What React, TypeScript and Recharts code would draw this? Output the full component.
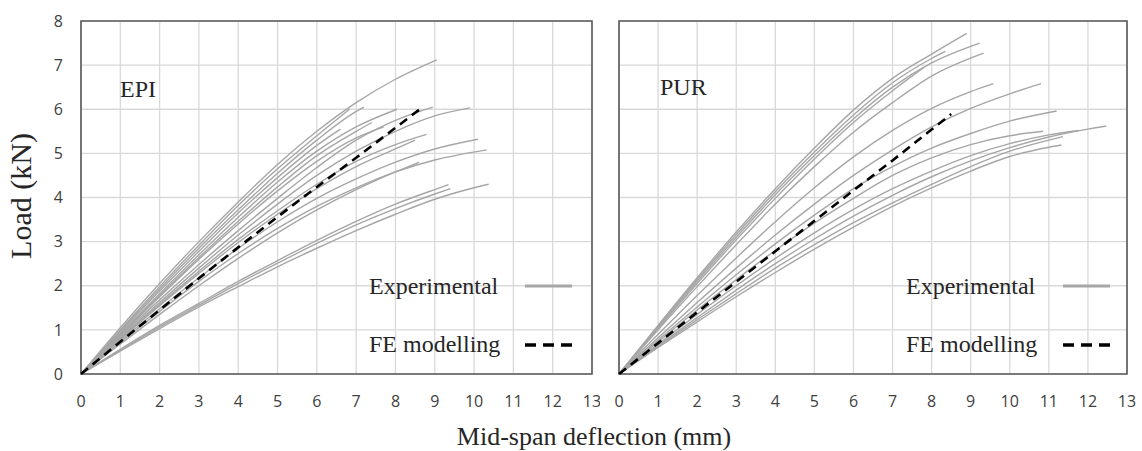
import React from "react";
import {
  LineChart,
  Line,
  XAxis,
  YAxis,
  CartesianGrid,
  ReferenceArea,
} from "recharts";

type Pt = [number, number];

const X_TICKS = [0, 1, 2, 3, 4, 5, 6, 7, 8, 9, 10, 11, 12, 13];
const Y_TICKS = [0, 1, 2, 3, 4, 5, 6, 7, 8];

// EPI experimental curves (deflection mm, load kN)
const epi1: Pt[] = [[0, 0], [1, 1.05], [2, 2.05], [3, 3.0], [4, 3.9], [5, 4.75], [6, 5.5], [7, 6.15], [8, 6.68], [9.05, 7.12]];
const epi2: Pt[] = [[0, 0], [1, 1.0], [2, 1.98], [3, 2.92], [4, 3.82], [5, 4.65], [6, 5.4], [6.83, 6.0]];
const epi3: Pt[] = [[0, 0], [1, 0.98], [2, 1.93], [3, 2.85], [4, 3.72], [5, 4.55], [6, 5.3], [7, 5.95], [7.2, 6.05]];
const epi4: Pt[] = [[0, 0], [1, 0.92], [2, 1.82], [3, 2.7], [4, 3.55], [5, 4.35], [6, 5.05], [7, 5.6], [8.04, 6.0]];
const epi5: Pt[] = [[0, 0], [1, 0.85], [2, 1.68], [3, 2.48], [4, 3.25], [5, 3.98], [6, 4.68], [7, 5.3], [8, 5.75], [8.95, 6.05]];
const epi6: Pt[] = [[0, 0], [1, 0.82], [2, 1.62], [3, 2.4], [4, 3.15], [5, 3.85], [6, 4.5], [7, 5.05], [8, 5.5], [9, 5.85], [9.9, 6.03]];
const epi7: Pt[] = [[0, 0], [1, 0.8], [2, 1.58], [3, 2.33], [4, 3.05], [5, 3.7], [6, 4.3], [7, 4.82], [8, 5.2], [8.79, 5.43]];
const epi8: Pt[] = [[0, 0], [1, 0.75], [2, 1.48], [3, 2.18], [4, 2.85], [5, 3.45], [6, 3.98], [7, 4.42], [8, 4.8], [9, 5.1], [10.1, 5.32]];
const epi9: Pt[] = [[0, 0], [1, 0.72], [2, 1.42], [3, 2.1], [4, 2.73], [5, 3.3], [6, 3.8], [7, 4.22], [8, 4.58], [9, 4.85], [10.32, 5.08]];
const epi10: Pt[] = [[0, 0], [1, 0.88], [2, 1.75], [3, 2.6], [4, 3.4], [5, 4.15], [6, 4.82], [7, 5.35], [7.7, 5.6]];
const epi11: Pt[] = [[0, 0], [1, 0.78], [2, 1.55], [3, 2.28], [4, 2.98], [5, 3.62], [6, 4.2], [7, 4.7], [8, 5.1], [8.5, 5.3]];
const epi12: Pt[] = [[0, 0], [1, 0.56], [2, 1.1], [3, 1.6], [4, 2.1], [5, 2.57], [6, 3.03], [7, 3.46], [8, 3.85], [9, 4.18], [9.35, 4.29]];
const epi13: Pt[] = [[0, 0], [1, 0.54], [2, 1.07], [3, 1.56], [4, 2.05], [5, 2.51], [6, 2.96], [7, 3.38], [8, 3.75], [9, 4.08], [9.4, 4.2]];
const epi14: Pt[] = [[0, 0], [1, 0.52], [2, 1.03], [3, 1.52], [4, 1.98], [5, 2.43], [6, 2.85], [7, 3.25], [8, 3.62], [9, 3.96], [10, 4.22], [10.37, 4.3]];
const epi15: Pt[] = [[0, 0], [1, 0.95], [2, 1.88], [3, 2.78], [4, 3.65], [5, 4.45], [6, 5.18], [6.6, 5.55]];
const epi16: Pt[] = [[0, 0], [1, 0.9], [2, 1.78], [3, 2.64], [4, 3.46], [5, 4.24], [6, 4.95], [7, 5.5], [7.4, 5.7]];
const epi17: Pt[] = [[0, 0], [1, 0.68], [2, 1.35], [3, 2.0], [4, 2.62], [5, 3.2], [6, 3.72], [7, 4.18], [8, 4.58], [8.6, 4.8]];
const feEpi: Pt[] = [[0, 0], [1, 0.73], [2, 1.45], [3, 2.17], [4, 2.87], [5, 3.56], [6, 4.24], [7, 4.9], [8, 5.58], [8.62, 6.0]];

// PUR experimental curves
const pur1: Pt[] = [[0, 0], [1, 1.1], [2, 2.18], [3, 3.22], [4, 4.2], [5, 5.12], [6, 5.98], [7, 6.7], [8, 7.25], [8.9, 7.72]];
const pur2: Pt[] = [[0, 0], [1, 1.08], [2, 2.14], [3, 3.16], [4, 4.13], [5, 5.03], [6, 5.87], [7, 6.6], [8, 7.15], [8.35, 7.31]];
const pur3: Pt[] = [[0, 0], [1, 1.06], [2, 2.1], [3, 3.1], [4, 4.06], [5, 4.95], [6, 5.78], [7, 6.5], [8, 7.05], [9.23, 7.5]];
const pur4: Pt[] = [[0, 0], [1, 1.0], [2, 1.98], [3, 2.93], [4, 3.85], [5, 4.7], [6, 5.48], [7, 6.15], [8, 6.75], [9.33, 7.27]];
const pur5: Pt[] = [[0, 0], [1, 1.03], [2, 2.05], [3, 3.04], [4, 3.98], [5, 4.87], [6, 5.7], [7, 6.42], [7.8, 6.95]];
const pur6: Pt[] = [[0, 0], [1, 0.9], [2, 1.78], [3, 2.63], [4, 3.45], [5, 4.22], [6, 4.92], [7, 5.52], [8, 6.02], [9, 6.4], [9.58, 6.58]];
const pur7: Pt[] = [[0, 0], [1, 0.82], [2, 1.62], [3, 2.4], [4, 3.15], [5, 3.85], [6, 4.5], [7, 5.08], [8, 5.6], [9, 6.02], [10, 6.35], [10.8, 6.58]];
const pur8: Pt[] = [[0, 0], [1, 0.77], [2, 1.52], [3, 2.25], [4, 2.95], [5, 3.6], [6, 4.2], [7, 4.7], [8, 5.12], [9, 5.45], [10, 5.73], [11.2, 5.96]];
const pur9: Pt[] = [[0, 0], [1, 0.65], [2, 1.28], [3, 1.9], [4, 2.5], [5, 3.06], [6, 3.58], [7, 4.05], [8, 4.47], [9, 4.83], [10, 5.13], [11, 5.37], [12, 5.55], [12.47, 5.62]];
const pur10: Pt[] = [[0, 0], [1, 0.68], [2, 1.35], [3, 2.0], [4, 2.62], [5, 3.2], [6, 3.73], [7, 4.2], [8, 4.6], [9, 4.95], [10, 5.22], [11, 5.42], [11.76, 5.52]];
const pur11: Pt[] = [[0, 0], [1, 0.73], [2, 1.45], [3, 2.14], [4, 2.8], [5, 3.42], [6, 3.98], [7, 4.5], [8, 4.9], [9, 5.2], [10, 5.4], [10.85, 5.5]];
const pur12: Pt[] = [[0, 0], [1, 0.62], [2, 1.23], [3, 1.82], [4, 2.4], [5, 2.93], [6, 3.43], [7, 3.88], [8, 4.3], [9, 4.7], [10, 5.05], [11, 5.3], [11.36, 5.38]];
const pur13: Pt[] = [[0, 0], [1, 0.6], [2, 1.18], [3, 1.75], [4, 2.3], [5, 2.83], [6, 3.33], [7, 3.8], [8, 4.22], [9, 4.6], [10, 4.93], [11, 5.14], [11.32, 5.19]];
const fePur: Pt[] = [[0, 0], [1, 0.7], [2, 1.4], [3, 2.09], [4, 2.78], [5, 3.47], [6, 4.16], [7, 4.84], [8, 5.54], [8.5, 5.89]];

const epiCurves = [epi1, epi2, epi3, epi4, epi5, epi6, epi7, epi8, epi9, epi10, epi11, epi12, epi13, epi14, epi15, epi16, epi17];
const purCurves = [pur1, pur2, pur3, pur4, pur5, pur6, pur7, pur8, pur9, pur10, pur11, pur12, pur13];

const GRAY = "#a6a6a6";
const SERIF = "'Liberation Serif', 'Times New Roman', serif";
const SANS = "'Open Sans', 'Noto Sans', sans-serif";

const rows = (c: Pt[]) => c.map(([x, y]) => ({ x, y }));

interface PanelProps {
  curves: Pt[][];
  fe: Pt[];
  left: number;
  width: number;
  mLeft: number;
  mRight: number;
  showY: boolean;
}

function Panel({ curves, fe, left, width, mLeft, mRight, showY }: PanelProps) {
  return (
    <div style={{ position: "absolute", left, top: 0 }}>
      <LineChart
        width={width}
        height={451}
        margin={{ top: 21, right: mRight, bottom: 55, left: mLeft }}
      >
        <CartesianGrid stroke="#d9d9d9" strokeWidth={1.3} />
        <XAxis
          dataKey="x"
          type="number"
          domain={[0, 13]}
          ticks={X_TICKS}
          interval={0}
          allowDuplicatedCategory={false}
          axisLine={false}
          tickLine={false}
          tickMargin={16}
          height={22}
          tick={{ fill: "#404040", fontSize: 16, fontFamily: SANS }}
        />
        <YAxis
          type="number"
          domain={[0, 8]}
          ticks={Y_TICKS}
          interval={0}
          hide={!showY}
          width={60}
          axisLine={false}
          tickLine={false}
          tickMargin={12}
          tick={{ fill: "#404040", fontSize: 16, fontFamily: SANS }}
        />
        <ReferenceArea
          x1={0}
          x2={13}
          y1={0}
          y2={8}
          fill="none"
          fillOpacity={0}
          stroke="#595959"
          strokeWidth={1.6}
        />
        {curves.map((c, i) => (
          <Line
            key={`c-${i}`}
            data={rows(c)}
            dataKey="y"
            type="monotone"
            stroke={GRAY}
            strokeWidth={1.4}
            dot={false}
            isAnimationActive={false}
          />
        ))}
        <Line
          data={rows(fe)}
          dataKey="y"
          type="linear"
          stroke="#000"
          strokeWidth={2.6}
          strokeDasharray="9 6"
          dot={false}
          isAnimationActive={false}
        />
      </LineChart>
    </div>
  );
}

function Legend({ x, lineX }: { x: number; lineX: number }) {
  const text: React.CSSProperties = {
    position: "absolute",
    left: x,
    fontFamily: SERIF,
    fontSize: 24,
    lineHeight: "24px",
    color: "#262626",
    whiteSpace: "nowrap",
  };
  return (
    <>
      <div style={{ ...text, top: 274 }}>Experimental</div>
      <div style={{ ...text, top: 332 }}>FE modelling</div>
      <svg style={{ position: "absolute", left: lineX, top: 280 }} width={48} height={70}>
        <line x1={0} y1={6} x2={47} y2={6} stroke={GRAY} strokeWidth={3} />
        <line x1={0} y1={65} x2={47} y2={65} stroke="#000" strokeWidth={3.5} strokeDasharray="11 7" />
      </svg>
    </>
  );
}

export default function App() {
  const tag: React.CSSProperties = {
    position: "absolute",
    fontFamily: SERIF,
    fontSize: 24,
    lineHeight: "24px",
    color: "#262626",
  };
  return (
    <div
      style={{
        position: "absolute",
        left: 0,
        top: 0,
        width: 1142,
        height: 451,
        background: "#fff",
        overflow: "hidden",
      }}
    >
      <Panel curves={epiCurves} fe={feEpi} left={0} width={600} mLeft={21} mRight={8} showY />
      <Panel curves={purCurves} fe={fePur} left={600} width={542} mLeft={19} mRight={15} showY={false} />
      <div style={{ ...tag, left: 120, top: 77 }}>EPI</div>
      <div style={{ ...tag, left: 660, top: 75 }}>PUR</div>
      <Legend x={369} lineX={525} />
      <Legend x={906} lineX={1063} />
      <div
        style={{
          position: "absolute",
          left: 21,
          top: 196,
          transform: "translate(-50%, -50%) rotate(-90deg)",
          fontFamily: SERIF,
          fontSize: 30,
          color: "#262626",
          whiteSpace: "nowrap",
        }}
      >
        Load (kN)
      </div>
      <div
        style={{
          position: "absolute",
          left: 594,
          top: 437,
          transform: "translate(-50%, -50%)",
          fontFamily: SERIF,
          fontSize: 26,
          color: "#262626",
          whiteSpace: "nowrap",
        }}
      >
        Mid-span deflection (mm)
      </div>
    </div>
  );
}
